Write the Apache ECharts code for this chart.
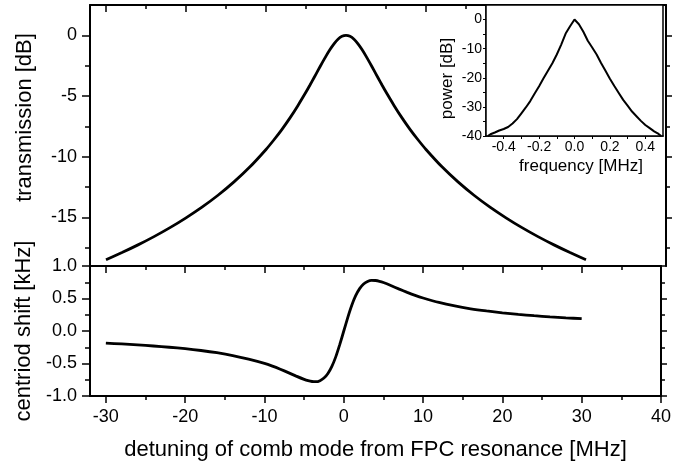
<!DOCTYPE html>
<html><head><meta charset="utf-8">
<script src="https://cdn.jsdelivr.net/npm/echarts@6/dist/echarts.min.js"></script>
<style>html,body{margin:0;padding:0;background:#fff}#c{width:674px;height:466px}</style>
</head><body><div id="c"></div>
<script>
// detuning of comb mode from FPC resonance [MHz]
const detuning = [-30,-28,-26,-24,-22,-20,-18,-16,-14,-12,-10,-9,-8,-7,-6,-5,-4.5,-4,-3.5,-3,-2.5,-2,-1.5,-1,-0.5,0,0.5,1,1.5,2,2.5,3,3.5,4,4.5,5,6,7,8,9,10,12,14,16,18,20,22,24,26,28,30];
// transmission [dB]
const transmission = [-18.48,-17.89,-17.26,-16.58,-15.84,-15.03,-14.15,-13.17,-12.07,-10.83,-9.40,-8.60,-7.74,-6.80,-5.77,-4.67,-4.09,-3.49,-2.89,-2.29,-1.71,-1.17,-0.70,-0.32,-0.08,0,-0.08,-0.32,-0.70,-1.17,-1.71,-2.29,-2.89,-3.49,-4.09,-4.67,-5.77,-6.80,-7.74,-8.60,-9.40,-10.83,-12.07,-13.17,-14.15,-15.03,-15.84,-16.58,-17.26,-17.89,-18.48];
// centriod shift [kHz]
const centroidShift = [-0.186,-0.199,-0.214,-0.231,-0.250,-0.272,-0.300,-0.334,-0.377,-0.432,-0.498,-0.540,-0.588,-0.640,-0.694,-0.744,-0.764,-0.777,-0.780,-0.764,-0.724,-0.653,-0.544,-0.394,-0.207,0,0.207,0.393,0.543,0.652,0.723,0.763,0.779,0.777,0.765,0.746,0.697,0.644,0.594,0.548,0.508,0.439,0.385,0.342,0.308,0.279,0.255,0.235,0.218,0.203,0.189];
// inset: frequency [MHz] vs power [dB]
const freq = [-0.49,-0.475,-0.45,-0.425,-0.4,-0.375,-0.35,-0.325,-0.3,-0.275,-0.25,-0.225,-0.2,-0.175,-0.15,-0.125,-0.1,-0.075,-0.05,-0.025,0,0.01,0.025,0.05,0.075,0.1,0.125,0.15,0.175,0.2,0.225,0.25,0.275,0.3,0.325,0.35,0.375,0.4,0.425,0.45,0.475,0.49];
const power = [-40,-39.4,-38.8,-38.1,-37.6,-36.9,-35.7,-34.2,-32.2,-30.2,-28.0,-25.4,-22.9,-20.2,-17.6,-15.0,-12.0,-8.6,-4.8,-2.3,0,-0.4,-1.6,-4.2,-7.3,-9.6,-12.0,-14.9,-17.6,-20.3,-22.8,-25.2,-27.6,-29.6,-31.6,-33.2,-34.8,-36.2,-37.3,-38.4,-39.3,-40];
// tick labels
const xMajor = [-30,-20,-10,0,10,20,30,40];
const xMinor = [-25,-15,-5,5,15,25,35];
const tMajor = [0,-5,-10,-15];
const tMinor = [-2.5,-7.5,-12.5,-17.5];

const F = '"Liberation Sans", Arial, sans-serif';
const K = '#000';
const line = {show:true, onZero:false, lineStyle:{color:K, width:2}};
const noLine = {show:false, onZero:false};
const noLabel = {show:false};
function tick(vals, inside, len){ return {show:true, inside:inside, length:len, customValues:vals, lineStyle:{color:K, width:1.5}}; }

const xBase = {type:'value', min:-32, max:40, splitLine:{show:false}};
const xAxes = [
  Object.assign({}, xBase, {gridIndex:0, position:'top', axisLine:line, axisTick:tick(xMajor,true,7), axisLabel:noLabel}),
  Object.assign({}, xBase, {gridIndex:0, position:'top', axisLine:noLine, axisTick:tick(xMinor,true,4), axisLabel:noLabel}),
  Object.assign({}, xBase, {gridIndex:1, position:'top', axisLine:line, axisTick:tick(xMajor,true,7), axisLabel:noLabel}),
  Object.assign({}, xBase, {gridIndex:1, position:'top', axisLine:noLine, axisTick:tick(xMinor,true,4), axisLabel:noLabel}),
  Object.assign({}, xBase, {gridIndex:1, position:'bottom', axisLine:line, axisTick:tick(xMajor,false,7),
    axisLabel:{show:true, customValues:xMajor, color:K, fontFamily:F, fontSize:18, margin:12},
    name:'detuning of comb mode from FPC resonance [MHz]', nameLocation:'middle', nameGap:43,
    nameTextStyle:{color:K, fontFamily:F, fontSize:22}}),
  Object.assign({}, xBase, {gridIndex:1, position:'bottom', axisLine:noLine, axisTick:tick(xMinor,false,4), axisLabel:noLabel}),
  {type:'value', gridIndex:2, position:'bottom', min:-0.5, max:0.5, interval:0.1, splitLine:{show:false},
    axisLine:{show:true, onZero:false, lineStyle:{color:K, width:1.5}},
    axisTick:{show:true, inside:false, length:3, lineStyle:{color:K, width:1}},
    axisLabel:{color:K, fontFamily:F, fontSize:14, margin:4, showMinLabel:false, showMaxLabel:false,
      formatter:function(v){ const n=Math.round(v*10); return (Math.abs(n)%2===0 && Math.abs(n)<5) ? (n/10).toFixed(1) : ''; }},
    name:'frequency [MHz]', nameLocation:'middle', nameGap:22,
    nameTextStyle:{color:K, fontFamily:F, fontSize:17, padding:[0,0,0,13]}}
];

const tBase = {type:'value', gridIndex:0, min:-19, max:2.5, splitLine:{show:false}};
const sBase = {type:'value', gridIndex:1, min:-1, max:1, interval:0.5, splitLine:{show:false}};
const yAxes = [
  Object.assign({}, tBase, {position:'left', axisLine:line, axisTick:tick(tMajor,false,8),
    axisLabel:{show:true, customValues:tMajor, color:K, fontFamily:F, fontSize:18, margin:13},
    name:'transmission [dB]', nameLocation:'middle', nameGap:54,
    nameTextStyle:{color:K, fontFamily:F, fontSize:22, padding:[0,0,0,36]}}),
  Object.assign({}, tBase, {position:'left', axisLine:noLine, axisTick:tick(tMinor,false,5), axisLabel:noLabel}),
  Object.assign({}, tBase, {position:'right', axisLine:line, axisTick:tick(tMajor,false,6), axisLabel:noLabel}),
  Object.assign({}, tBase, {position:'right', axisLine:noLine, axisTick:tick(tMinor,false,4), axisLabel:noLabel}),
  Object.assign({}, sBase, {position:'left', axisLine:line,
    axisTick:{show:true, inside:false, length:8, lineStyle:{color:K, width:1.5}},
    minorTick:{show:true, splitNumber:2, length:5, lineStyle:{color:K, width:1.5}},
    axisLabel:{color:K, fontFamily:F, fontSize:18, margin:13, formatter:function(v){return v.toFixed(1);}},
    name:'centriod shift [kHz]', nameLocation:'middle', nameGap:54,
    nameTextStyle:{color:K, fontFamily:F, fontSize:22}}),
  Object.assign({}, sBase, {position:'right', axisLine:line,
    axisTick:{show:true, inside:false, length:6, lineStyle:{color:K, width:1.5}},
    minorTick:{show:true, splitNumber:2, length:4, lineStyle:{color:K, width:1.5}},
    axisLabel:noLabel}),
  {type:'value', gridIndex:2, position:'left', min:-40, max:5, interval:5, splitLine:{show:false},
    axisLine:{show:true, onZero:false, lineStyle:{color:K, width:1.5}},
    axisTick:{show:true, inside:false, length:3, lineStyle:{color:K, width:1}},
    axisLabel:{color:K, fontFamily:F, fontSize:14, margin:4, showMaxLabel:false,
      formatter:function(v){ return (v%10===0 && v<=0) ? String(v) : ''; }},
    name:'power [dB]', nameLocation:'middle', nameGap:30,
    nameTextStyle:{color:K, fontFamily:F, fontSize:17, padding:[0,16,0,0]}}
];

const chart = echarts.init(document.getElementById('c'), null, {renderer:'canvas'});
chart.setOption({
  animation:false,
  backgroundColor:'#fff',
  grid:[
    {left:90, right:8, top:5, height:261},
    {left:90, right:8, top:266, height:130},
    {left:486, width:177, top:5, height:131, show:true, backgroundColor:'#fff', borderColor:K, borderWidth:1.5, z:5}
  ],
  xAxis:xAxes,
  yAxis:yAxes,
  series:[
    {type:'line', xAxisIndex:0, yAxisIndex:0, data:detuning.map((x,i)=>[x,transmission[i]]),
      showSymbol:false, smooth:0.2, lineStyle:{color:K, width:2.8}},
    {type:'line', xAxisIndex:4, yAxisIndex:4, data:detuning.map((x,i)=>[x,centroidShift[i]]),
      showSymbol:false, smooth:0.2, lineStyle:{color:K, width:2.8}},
    {type:'line', xAxisIndex:6, yAxisIndex:6, data:freq.map((x,i)=>[x,power[i]]),
      showSymbol:false, smooth:false, lineStyle:{color:K, width:2}, z:6}
  ]
});
</script></body></html>
